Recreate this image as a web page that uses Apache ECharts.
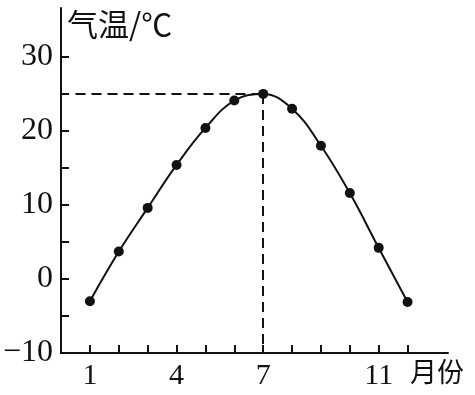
<!DOCTYPE html>
<html><head><meta charset="utf-8">
<script src="https://cdn.jsdelivr.net/npm/echarts@6/dist/echarts.min.js"></script>
<style>html,body{margin:0;padding:0;background:#fff}#c{width:475px;height:395px}</style>
</head><body><div id="c"></div>
<script>
var months = [1,2,3,4,5,6,7,8,9,10,11,12];
var temps = [-3.0, 3.7, 9.6, 15.4, 20.4, 24.1, 25.0, 23.0, 18.0, 11.6, 4.2, -3.1];
var yTicks = [-10,-5,0,5,10,15,20,25,30];
var yLabels = [-10,0,10,20,30];
var xLabels = [1,4,7,11];
var peakMonth = 7, peakTemp = 25;
var yTitle = '气温/℃', xTitle = '月份';

var chart = echarts.init(document.getElementById('c'));
var serif = 'Liberation Serif';
chart.setOption({
  animation:false,
  grid:{left:61,right:27,top:8,bottom:42,containLabel:false},
  xAxis:{type:'value',min:0,max:13.4,
    axisLine:{onZero:false,lineStyle:{color:'#111',width:2}},
    axisTick:{inside:true,length:8,lineStyle:{color:'#111',width:2},customValues:months},
    axisLabel:{customValues:xLabels,color:'#111',fontFamily:serif,fontSize:30,margin:8},
    splitLine:{show:false}},
  yAxis:{type:'value',min:-10,max:36.6,
    axisLine:{show:true,onZero:false,lineStyle:{color:'#111',width:2}},
    axisTick:{show:true,inside:true,length:8,lineStyle:{color:'#111',width:2},customValues:yTicks},
    axisLabel:{customValues:yLabels,color:'#111',fontFamily:serif,fontSize:32,margin:8,
      formatter:function(v){return v<0?'\u2212'+Math.abs(v):String(v);}},
    splitLine:{show:false}},
  graphic:[
    {type:'text',left:67,top:9,style:{text:yTitle,font:'31px "Noto Sans CJK SC"',fill:'#111'}},
    {type:'text',left:410,top:358,style:{text:xTitle,font:'27px "Noto Sans CJK SC"',fill:'#111'}}
  ],
  series:[{type:'line',smooth:0.4,data:months.map(function(m,i){return [m,temps[i]];}),
    symbol:'circle',symbolSize:10,itemStyle:{color:'#111'},lineStyle:{color:'#111',width:2},
    markLine:{silent:true,symbol:'none',label:{show:false},
      lineStyle:{color:'#111',width:2,type:[10,6]},
      data:[[{coord:[0.5,peakTemp]},{coord:[peakMonth,peakTemp]}],
            [{coord:[peakMonth,peakTemp]},{coord:[peakMonth,-10]}]]}
  }]
});
</script></body></html>
